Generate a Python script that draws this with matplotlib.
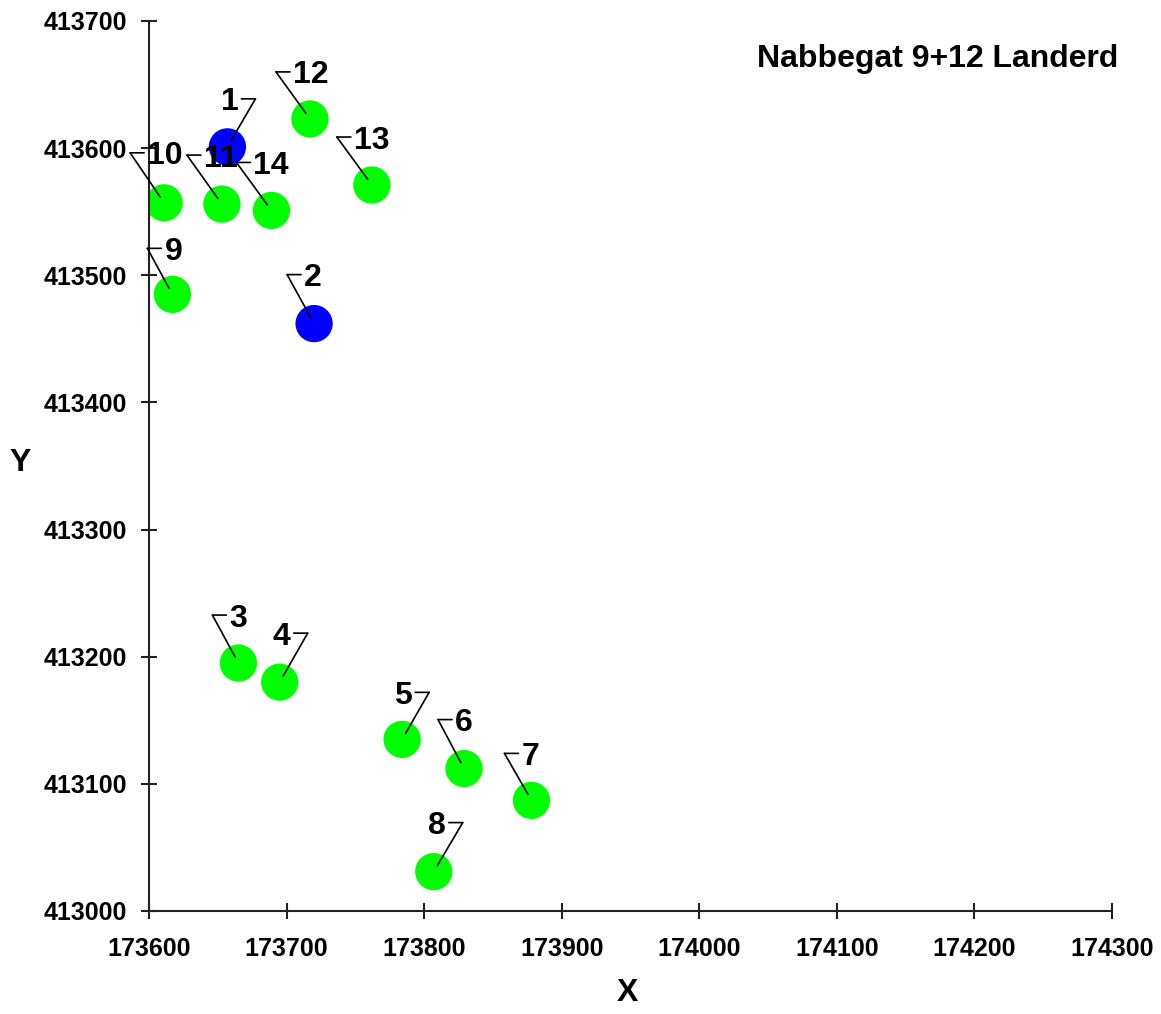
import matplotlib
matplotlib.use("Agg")
import matplotlib.pyplot as plt
from matplotlib.transforms import offset_copy

# meetpunten (RD-coordinaten)
labels = ["1", "2", "3", "4", "5", "6", "7", "8", "9", "10", "11", "12", "13", "14"]
x_rd = [173657, 173720, 173665, 173695, 173784, 173829, 173878, 173807,
        173617, 173611, 173653, 173717, 173762, 173689]
y_rd = [413601, 413462, 413195, 413180, 413135, 413112, 413087, 413031,
        413485, 413557, 413556, 413623, 413571, 413551]
kind = ["blue", "blue"] + ["green"] * 12

x_ticks = [173600, 173700, 173800, 173900, 174000, 174100, 174200, 174300]
y_ticks = [413000, 413100, 413200, 413300, 413400, 413500, 413600, 413700]

# label placement: bend of leader relative to point (pixels, y up), text side
label_pos = [(28, 48, -1), (-27, 49, 1), (-26, 48, 1), (28, 49, -1), (27, 47, -1),
             (-26, 49, 1), (-27, 47, 1), (29, 49, -1), (-25, 46, 1), (-34, 50, 1),
             (-35, 49, 1), (-34, 47, 1), (-35, 48, 1), (-35, 48, 1)]

COLORS = {"blue": "#0000ff", "green": "#00ff00"}
FONT = "Liberation Sans"

fig = plt.figure(figsize=(11.61, 10.14), dpi=100)
ax = fig.add_axes([149 / 1161, 1 - 911 / 1014, 963 / 1161, 890 / 1014])

ax.scatter(x_rd, y_rd, s=720, c=[COLORS[k] for k in kind], edgecolors="none",
           zorder=2, clip_on=True)

line_kw = dict(arrowstyle="-", lw=1.2, color="black", shrinkA=0, shrinkB=0)
for xi, yi, lab, (bx, by, side) in zip(x_rd, y_rd, labels, label_pos):
    ax.annotate("", xy=(xi, yi), xytext=(bx, by), textcoords="offset pixels",
                arrowprops=dict(line_kw, shrinkB=5), zorder=3)
    bend = offset_copy(ax.transData, fig=fig, x=bx, y=by, units="dots")
    ax.annotate("", xy=(xi, yi), xycoords=bend, xytext=(side * 14, 0),
                textcoords="offset pixels", arrowprops=line_kw, zorder=3)
    ax.annotate(lab, xy=(xi, yi), xycoords=bend, xytext=(side * 17, 0),
                textcoords="offset pixels", ha="left" if side > 0 else "right",
                va="center_baseline", fontsize=23, fontweight="bold",
                family=FONT, zorder=4)

ax.set_xlim(x_ticks[0], x_ticks[-1])
ax.set_ylim(y_ticks[0], y_ticks[-1])
ax.set_xticks(x_ticks)
ax.set_yticks(y_ticks)
ax.set_xticklabels([str(v) for v in x_ticks], fontsize=18, fontweight="bold", family=FONT)
ax.set_yticklabels([str(v) for v in y_ticks], fontsize=18, fontweight="bold", family=FONT)
ax.tick_params(direction="inout", length=11, width=1.5, color="#222222")
ax.tick_params(axis="x", pad=13)
ax.tick_params(axis="y", pad=10)

for s in ["top", "right"]:
    ax.spines[s].set_visible(False)
for s in ["left", "bottom"]:
    ax.spines[s].set_linewidth(1.5)
    ax.spines[s].set_color("#222222")

ax.set_xlabel("X", fontsize=23, fontweight="bold", family=FONT, va="center")
ax.set_ylabel("Y", fontsize=23, fontweight="bold", family=FONT, rotation=0,
              ha="center", va="center")
ax.xaxis.set_label_coords(0.4964, -0.092)
ax.yaxis.set_label_coords(-0.134, 0.503)

fig.text(1118 / 1161, 1 - 67 / 1014, "Nabbegat 9+12 Landerd", ha="right",
         va="baseline", fontsize=23, fontweight="bold", family=FONT)

fig.savefig("out.png", dpi=100)
